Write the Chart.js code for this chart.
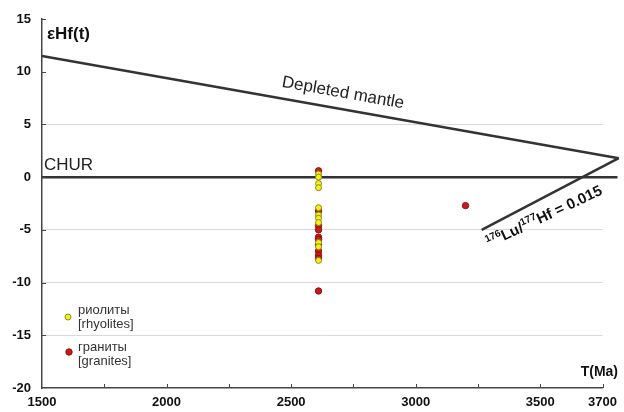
<!DOCTYPE html>
<html>
<head>
<meta charset="utf-8">
<script src="https://cdn.jsdelivr.net/npm/chart.js@4.4.1/dist/chart.umd.min.js"></script>
<style>
  body { margin: 0; background: #fff; }
  #wrap { width: 624px; height: 412px; }
</style>
</head>
<body>
<div id="wrap"><canvas id="chart"></canvas></div>
<script>
// axis ticks
const xTickValues = [1500, 2000, 2500, 3000, 3500, 3750];
const xTickLabels = ['1500', '2000', '2500', '3000', '3500', '3700'];
const yTickValues = [15, 10, 5, 0, -5, -10, -15, -20];

// samples
const rhyoliteT = [2610, 2610, 2610, 2610, 2610, 2610, 2610, 2610, 2610, 2610, 2610];
const rhyoliteEHf = [0.3, 0.0, -0.6, -1.0, -2.9, -3.6, -3.9, -4.3, -6.2, -6.6, -7.9];
const graniteT = [2610, 2610, 2610, 2610, 2610, 2610, 2610, 2610, 2610, 2610, 2610, 3200];
const graniteEHf = [0.6, -3.2, -4.6, -5.0, -5.7, -5.9, -6.4, -7.0, -7.4, -7.7, -10.8, -2.7];

// reference lines
const dmT = [1500, 3815];
const dmEHf = [11.5, 1.8];
const churT = [1500, 3810];
const churEHf = [0, 0];
const luhfT = [3265, 3815];
const luhfEHf = [-5.0, 1.8];

const pts = (xs, ys) => xs.map((x, i) => ({ x: x, y: ys[i] }));
const FONT = '"Liberation Sans", Arial, sans-serif';

const lineStyle = {
  showLine: true, pointRadius: 0, borderColor: '#333', borderWidth: 2.5,
  clip: false, order: 5
};

// texts, inner ticks, legend
const decor = {
  id: 'decor',
  afterDatasetsDraw(chart) {
    const ctx = chart.ctx;
    const xs = chart.scales.x, ys = chart.scales.y;
    const a = chart.chartArea;
    ctx.save();

    // inner tick marks
    ctx.strokeStyle = '#444';
    ctx.lineWidth = 1;
    for (let v = 1750; v <= 3750; v += 250) {
      const px = Math.round(xs.getPixelForValue(v)) + 0.5;
      ctx.beginPath(); ctx.moveTo(px, a.bottom); ctx.lineTo(px, a.bottom - 4); ctx.stroke();
    }
    for (let v = -15; v <= 15; v += 5) {
      const py = Math.round(ys.getPixelForValue(v)) + 0.5;
      ctx.beginPath(); ctx.moveTo(a.left, py); ctx.lineTo(a.left + 4, py); ctx.stroke();
    }

    ctx.fillStyle = '#111';
    ctx.textBaseline = 'middle';
    ctx.textAlign = 'left';
    ctx.font = 'bold 17px ' + FONT;
    ctx.fillText('εHf(t)', 47, 34);

    ctx.font = '17px ' + FONT;
    ctx.fillStyle = '#222';
    ctx.fillText('CHUR', 44, 165);

    ctx.font = 'bold 14px ' + FONT;
    ctx.textAlign = 'right';
    ctx.fillStyle = '#111';
    ctx.fillText('T(Ma)', 618, 372);

    // Depleted mantle label
    const dx = xs.getPixelForValue(dmT[1]) - xs.getPixelForValue(dmT[0]);
    const dy = ys.getPixelForValue(dmEHf[1]) - ys.getPixelForValue(dmEHf[0]);
    ctx.save();
    ctx.translate(343, 93);
    ctx.rotate(Math.atan2(dy, dx));
    ctx.textAlign = 'center';
    ctx.font = '17px ' + FONT;
    ctx.fillStyle = '#222';
    ctx.fillText('Depleted mantle', 0, 0);
    ctx.restore();

    // Lu/Hf label, a bit flatter than its line
    const lx = xs.getPixelForValue(luhfT[1]) - xs.getPixelForValue(luhfT[0]);
    const ly = ys.getPixelForValue(luhfEHf[1]) - ys.getPixelForValue(luhfEHf[0]);
    ctx.save();
    ctx.translate(489, 248);
    ctx.rotate(Math.atan2(ly, lx) + 0.04);
    ctx.textAlign = 'left';
    ctx.textBaseline = 'alphabetic';
    ctx.fillStyle = '#111';
    let x = 0;
    const piece = (t, font, dyy) => {
      ctx.font = font;
      ctx.fillText(t, x, dyy);
      x += ctx.measureText(t).width;
    };
    piece('176', 'bold 10px ' + FONT, -6);
    piece('Lu/', 'bold 15px ' + FONT, 0);
    piece('177', 'bold 10px ' + FONT, -6);
    piece('Hf = 0.015', 'bold 15px ' + FONT, 0);
    ctx.restore();

    // legend
    ctx.lineWidth = 1;
    ctx.fillStyle = '#f4f01c';
    ctx.strokeStyle = '#8c8a10';
    ctx.beginPath(); ctx.arc(68, 317, 3, 0, Math.PI * 2); ctx.fill(); ctx.stroke();
    ctx.fillStyle = '#cc1a1a';
    ctx.strokeStyle = '#8e1010';
    ctx.beginPath(); ctx.arc(69, 352, 3.2, 0, Math.PI * 2); ctx.fill(); ctx.stroke();

    ctx.font = '13px ' + FONT;
    ctx.fillStyle = '#333';
    ctx.textAlign = 'left';
    ctx.textBaseline = 'middle';
    ctx.fillText('риолиты', 78, 310);
    ctx.fillText('[rhyolites]', 78, 324);
    ctx.fillText('граниты', 78, 347);
    ctx.fillText('[granites]', 78, 361);

    ctx.restore();
  }
};

new Chart(document.getElementById('chart'), {
  type: 'scatter',
  data: {
    datasets: [
      {
        label: 'rhyolites', data: pts(rhyoliteT, rhyoliteEHf), order: 0,
        pointRadius: 3, pointBorderWidth: 1,
        backgroundColor: '#f4f01c', borderColor: '#8c8a10'
      },
      {
        label: 'granites', data: pts(graniteT, graniteEHf), order: 1,
        pointRadius: 3.2, pointBorderWidth: 1,
        backgroundColor: '#cc1a1a', borderColor: '#8e1010'
      },
      Object.assign({ label: 'DM', data: pts(dmT, dmEHf) }, lineStyle),
      Object.assign({ label: 'CHUR', data: pts(churT, churEHf) }, lineStyle),
      Object.assign({ label: 'LuHf', data: pts(luhfT, luhfEHf) }, lineStyle)
    ]
  },
  options: {
    responsive: true,
    maintainAspectRatio: false,
    animation: false,
    layout: { padding: { top: 19, right: 17, left: 0, bottom: 0 } },
    plugins: { legend: { display: false }, tooltip: { enabled: false } },
    scales: {
      x: {
        type: 'linear', min: 1500, max: 3750,
        afterFit: s => { s.height = 24; },
        afterBuildTicks: s => { s.ticks = xTickValues.map(v => ({ value: v })); },
        border: { color: '#444', width: 1.5 },
        grid: { drawOnChartArea: false, drawTicks: false },
        ticks: {
          padding: 7, color: '#111', autoSkip: false, maxRotation: 0,
          font: { family: FONT, size: 13, weight: 'bold' },
          callback: v => xTickLabels[xTickValues.indexOf(v)]
        }
      },
      y: {
        type: 'linear', min: -20, max: 15,
        afterFit: s => { s.width = 42; },
        afterBuildTicks: s => { s.ticks = yTickValues.map(v => ({ value: v })); },
        border: { color: '#444', width: 1.5 },
        grid: {
          drawTicks: false, lineWidth: 1,
          color: c => (c.tick && [5, -5, -10, -15].includes(c.tick.value)) ? '#d9d9d9' : 'rgba(0,0,0,0)'
        },
        ticks: {
          padding: 11, color: '#111',
          font: { family: FONT, size: 13, weight: 'bold' }
        }
      }
    }
  },
  plugins: [decor]
});
</script>
</body>
</html>
